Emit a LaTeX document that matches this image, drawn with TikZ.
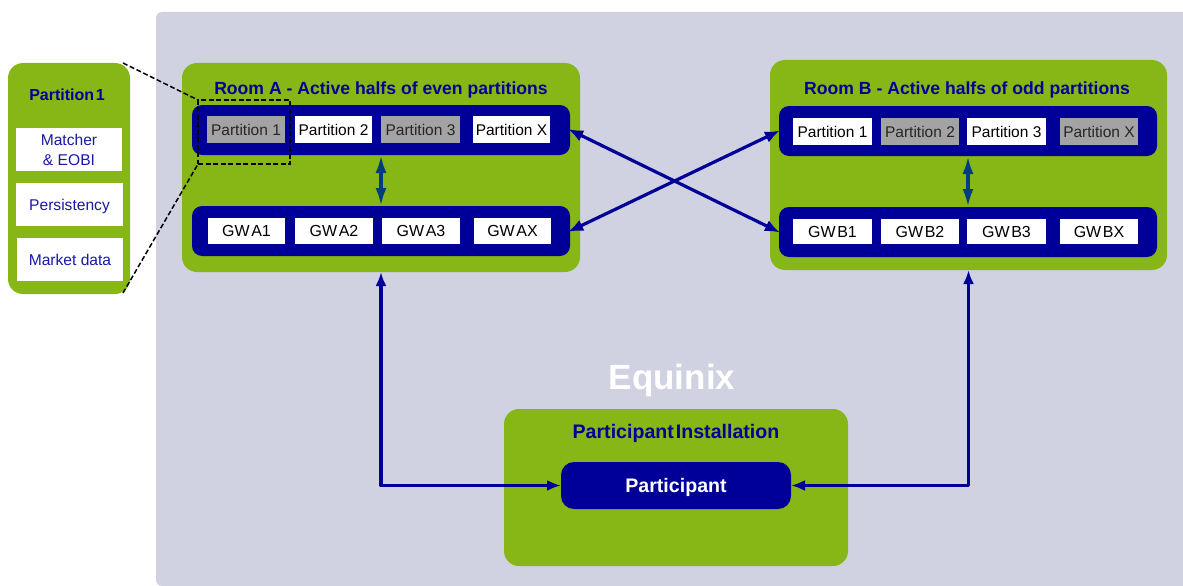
\documentclass[tikz,border=0pt]{standalone}
\usepackage{fontspec}
\setmainfont{Liberation Sans}
\usetikzlibrary{arrows.meta}
\definecolor{bgc}{HTML}{D0D2E2}
\definecolor{grn}{HTML}{86B716}
\definecolor{navy}{HTML}{000099}
\definecolor{teal}{HTML}{003C80}
\definecolor{gry}{HTML}{A3A3A3}
\newcommand{\bx}[7][]{\node[#1,minimum width={#4pt-#2pt},minimum height={#5pt-#3pt}] (#6) at ({(#2+#4)/2},{(#3+#5)/2}) {#7};}
\tikzset{
  base/.style={inner sep=0pt,outer sep=0pt,align=center},
  panel/.style={base,fill=grn,rounded corners=15pt},
  bar/.style={base,fill=navy,rounded corners=10pt},
  whitebox/.style={base,fill=white,text=black,font=\fontsize{15.5}{17}\selectfont,text depth=0pt},
  greybox/.style={whitebox,fill=gry,text=black!85},
  bluebox/.style={base,fill=white,text=navy!90!white,font=\fontsize{15.6}{20.5}\selectfont},
  title/.style={base,text=navy,font=\bfseries\fontsize{17.6}{19}\selectfont},
  link/.style={navy,line width=3.2pt,{Latex[length=15pt,width=12pt]}-{Latex[length=15pt,width=12pt]}},
  vlink/.style={teal,line width=3.4pt,{Latex[length=18pt,width=11pt]}-{Latex[length=18pt,width=11pt]}},
  feed/.style={navy,line width=3.2pt,line join=round,{Latex[length=14pt,width=11pt]}-{Latex[length=14pt,width=11pt]}},
  guide/.style={black,line width=1.5pt,dash pattern=on 5pt off 2.5pt},
  gw/.style={whitebox,font=\fontsize{16}{17}\selectfont,execute at begin node={\spaceskip=.1em\relax}},
}
\begin{document}
\begin{tikzpicture}[x=1pt,y=-1pt]
\useasboundingbox (0,0) rectangle (1183,586);
\fill[bgc,rounded corners=6pt] (156,586) -- (156,12) -- (1190,12) -- (1190,586) -- cycle;
% left detail panel
\bx[panel]{8}{63}{130}{294}{detail}{}
\node[title,font=\bfseries\fontsize{16}{17}\selectfont,execute at begin node={\spaceskip=.1em\relax}] (detailt) at (67,95) {Partition 1};
\bx[bluebox,font=\fontsize{15.6}{20}\selectfont]{16}{128}{122}{171}{matcher}{Matcher\\\& EOBI}
\bx[bluebox,text depth=0pt]{16}{183}{123}{226}{persist}{Persistency}
\bx[bluebox]{17}{238}{123}{281}{market}{Market data}
% room A
\bx[panel]{182}{63}{580}{272}{roomA}{}
\node[title] (roomAt) at (381,90) {Room A - Active halfs of even partitions};
\bx[bar]{192}{105}{570}{155}{barA1}{}
\bx[bar]{192}{206}{570}{256}{barA2}{}
\bx[greybox]{207}{116}{285}{143}{pa1}{Partition 1}
\bx[whitebox]{295}{116}{372}{143}{pa2}{Partition 2}
\bx[greybox]{381}{116}{460}{143}{pa3}{Partition 3}
\bx[whitebox]{473}{116}{550}{143}{pax}{Partition X}
\bx[gw]{208}{218}{285}{244}{ga1}{GW A1}
\bx[gw]{295}{218}{373}{244}{ga2}{GW A2}
\bx[gw]{382}{218}{460}{244}{ga3}{GW A3}
\bx[gw]{474}{218}{551}{244}{gax}{GW AX}
% room B
\bx[panel]{770}{60}{1167}{270}{roomB}{}
\node[title] (roomBt) at (967,90) {Room B - Active halfs of odd partitions};
\bx[bar]{779}{106}{1157}{156}{barB1}{}
\bx[bar]{779}{207}{1157}{257}{barB2}{}
\bx[whitebox]{793}{118}{872}{145}{pb1}{Partition 1}
\bx[greybox]{881}{118}{959}{145}{pb2}{Partition 2}
\bx[whitebox]{967}{118}{1046}{145}{pb3}{Partition 3}
\bx[greybox]{1060}{118}{1138}{145}{pbx}{Partition X}
\bx[gw]{793}{219}{872}{244}{gb1}{GW B1}
\bx[gw]{881}{219}{959}{244}{gb2}{GW B2}
\bx[gw]{967}{219}{1046}{244}{gb3}{GW B3}
\bx[gw]{1060}{219}{1138}{244}{gbx}{GW BX}
% equinix and participant
\node[base,text=white,font=\bfseries\fontsize{35}{38}\selectfont] (equinix) at (672,380) {Equinix};
\bx[panel]{504}{409}{848}{566}{inst}{}
\node[title,font=\bfseries\fontsize{19.6}{21}\selectfont,execute at begin node={\spaceskip=.1em\relax}] (instt) at (676,433) {Participant Installation};
\bx[bar,rounded corners=13pt,text=white,text depth=0pt,font=\bfseries\fontsize{19.6}{21}\selectfont]{561}{462}{791}{509}{part}{Participant}
% connectors
\draw[vlink] (barA1.south) -- (barA2.north);
\draw[vlink] (barB1.south) -- (barB2.north);
\draw[link,shorten <=-2pt,shorten >=-1pt] (barA1.east) -- (barB2.west);
\draw[link,shorten <=-2pt,shorten >=-1pt] (barA2.east) -- (barB1.west);
\draw[feed] (roomA.south) |- (part.west);
\draw[feed] (roomB.south) |- (part.east);
% zoom guide
\bx[base,draw=black,line width=1.5pt,dash pattern=on 5pt off 2.5pt]{198}{100}{290}{164}{zoomb}{}
\coordinate (dtop) at (123,63);
\coordinate (dbot) at (123,293);
\draw[guide] (dtop) -- (zoomb.north west);
\draw[guide] (dbot) -- (zoomb.south west);
\end{tikzpicture}
\end{document}
